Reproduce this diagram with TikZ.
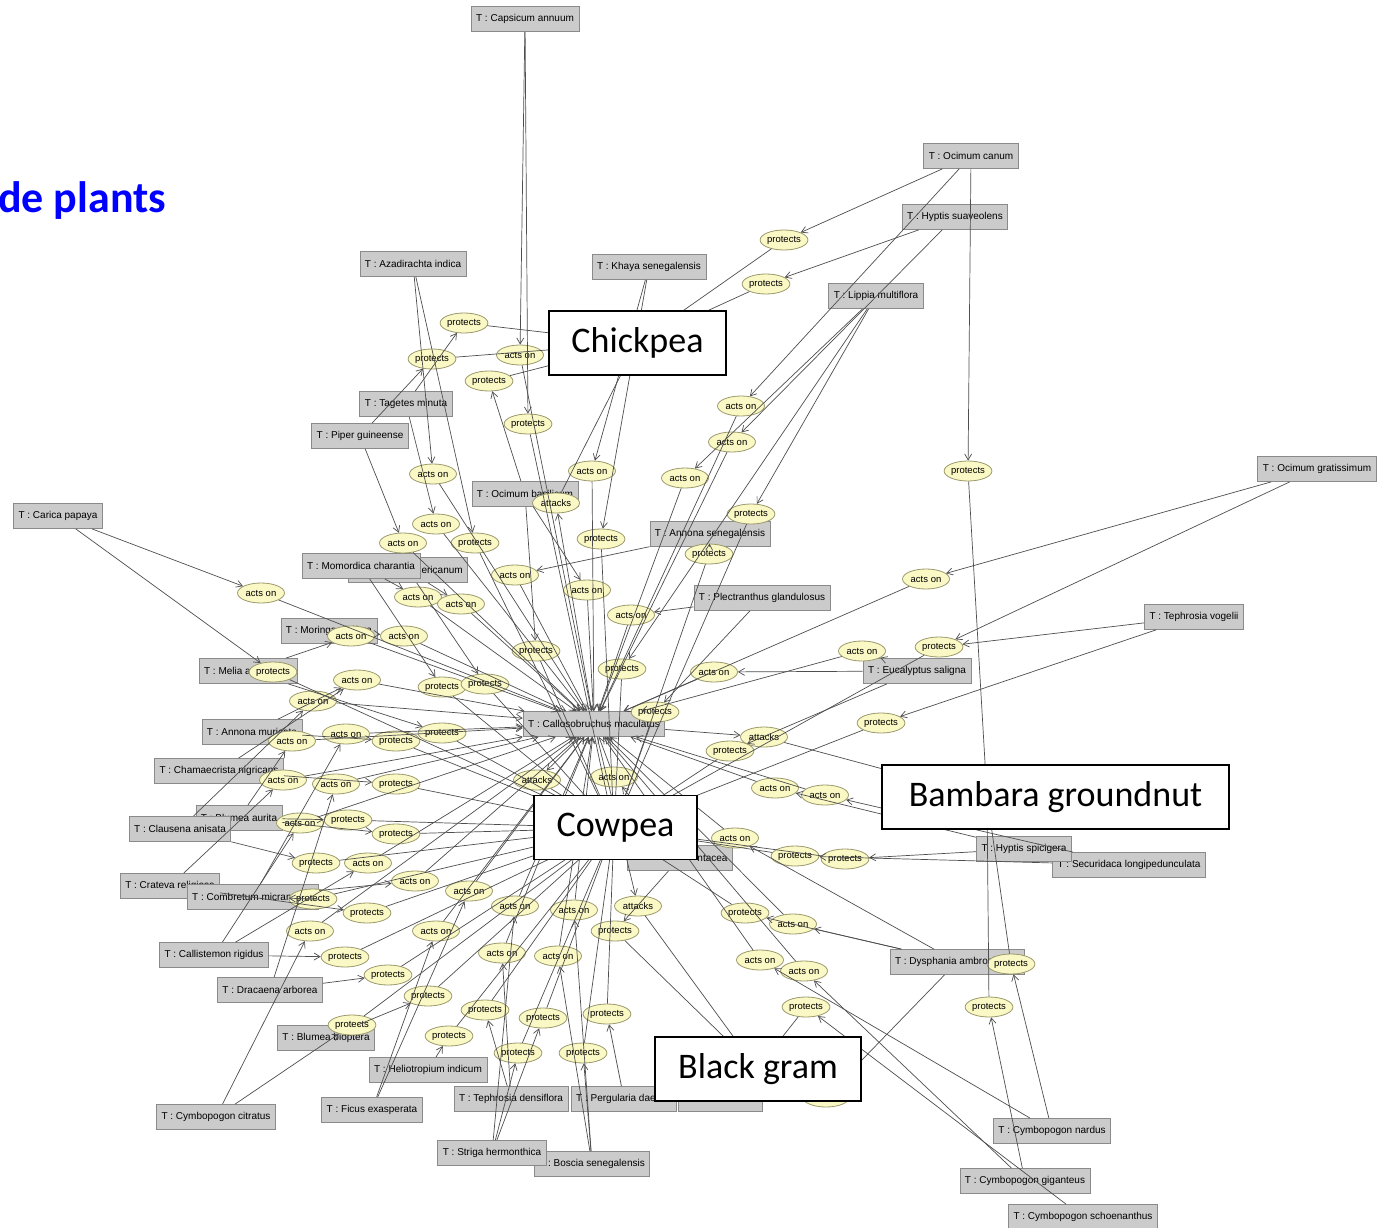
\documentclass[tikz,border=0pt]{standalone}
\usepackage{fontspec}
\newfontfamily\graphfont{Liberation Sans}
\newfontfamily\slidefont{Carlito}
\usepackage{xcolor}
\usetikzlibrary{arrows.meta, shapes.geometric}
\definecolor{taxonfill}{HTML}{CBCBCB}
\definecolor{taxonline}{HTML}{8A8A8A}
\definecolor{relfill}{HTML}{FAF8C4}
\definecolor{relline}{HTML}{9C9A6C}
\definecolor{linkgray}{HTML}{4E4E4E}
\definecolor{titleblue}{HTML}{0000FF}
\begin{document}
\begin{tikzpicture}[
    x=1pt, y=-1pt,
    taxon/.style={rectangle, draw=taxonline, fill=taxonfill, line width=0.8pt, minimum height=25pt, inner xsep=5pt, inner ysep=0pt, font=\graphfont\fontsize{10}{12}\selectfont},
    relation/.style={ellipse, draw=relline, fill=relfill, line width=0.8pt, minimum width=47pt, minimum height=20pt, inner sep=0pt, font=\graphfont\fontsize{9.5}{11}\selectfont},
    conn/.style={-{Straight Barb[length=6pt,width=7pt]}, draw=linkgray, line width=0.7pt},
    croplabel/.style={rectangle, draw=black, fill=white, line width=1.4pt, minimum height=64pt, font=\slidefont\fontsize{36}{40}\selectfont}
]
\useasboundingbox (0,0) rectangle (1384,1228);
\fill[white] (0,0) rectangle (1384,1228);

% slide title (cut at the left edge)
\node[anchor=base west, inner sep=0pt, text=titleblue, font=\slidefont\bfseries\fontsize{44}{48}\selectfont] (title) at (-2,212) {de plants};

% hidden crop nodes under the labels
\coordinate (chick) at (637,343);
\coordinate (cow) at (614,828);
\coordinate (bam) at (987,797);
\coordinate (bg) at (757,1069);

% plant taxa
\node[taxon] (cap) at (525,19) {T : Capsicum annuum};
\node[taxon] (ocan) at (971,156) {T : Ocimum canum};
\node[taxon] (hsua) at (955,217) {T : Hyptis suaveolens};
\node[taxon] (aza) at (413,264) {T : Azadirachta indica};
\node[taxon] (khaya) at (649,267) {T : Khaya senegalensis};
\node[taxon] (lip) at (876,296) {T : Lippia multiflora};
\node[taxon] (tag) at (406,404) {T : Tagetes minuta};
\node[taxon] (pip) at (360,436) {T : Piper guineense};
\node[taxon] (ogra) at (1317,469) {T : Ocimum gratissimum};
\node[taxon] (obas) at (525,494) {T : Ocimum basilicum};
\node[taxon] (car) at (58,516) {T : Carica papaya};
\node[taxon] (asen) at (710,534) {T : Annona senegalensis};
\node[taxon] (oame) at (408,570) {T : Ocimum americanum};
\node[taxon] (mom) at (361,566) {T : Momordica charantia};
\node[taxon] (plec) at (762,598) {T : Plectranthus glandulosus};
\node[taxon] (teph) at (1194,617) {T : Tephrosia vogelii};
\node[taxon] (mor) at (329,631) {T : Moringa oleifera};
\node[taxon] (mel) at (248,671) {T : Melia azedarach};
\node[taxon] (euc) at (917,671) {T : Eucalyptus saligna};
\node[taxon] (amur) at (252,732) {T : Annona muricata};
\node[taxon] (cham) at (219,771) {T : Chamaecrista nigricans};
\node[taxon] (baur) at (239,818) {T : Blumea aurita};
\node[taxon] (clau) at (180,829) {T : Clausena anisata};
\node[taxon] (sec) at (1129,865) {T : Securidaca longipedunculata};
\node[taxon] (hspi) at (1024,849) {T : Hyptis spicigera};
\node[taxon, text width=95pt, align=right] (hid1) at (680,858) {ntacea};
\node[taxon] (crat) at (170,886) {T : Crateva religiosa};
\node[taxon] (comb) at (253,897) {T : Combretum micranthum};
\node[taxon] (call) at (214,955) {T : Callistemon rigidus};
\node[taxon] (dys) at (957,962) {T : Dysphania ambrosioides};
\node[taxon] (drac) at (270,990) {T : Dracaena arborea};
\node[taxon] (bbio) at (326,1038) {T : Blumea bioptera};
\node[taxon] (hel) at (428,1070) {T : Heliotropium indicum};
\node[taxon] (cymc) at (216,1117) {T : Cymbopogon citratus};
\node[taxon] (fic) at (372,1110) {T : Ficus exasperata};
\node[taxon, minimum width=84pt] (hid2) at (720,1099) {};
\node[taxon] (perg) at (624,1099) {T : Pergularia daemia};
\node[taxon] (tden) at (511,1099) {T : Tephrosia densiflora};
\node[taxon] (bos) at (592,1164) {T : Boscia senegalensis};
\node[taxon] (stri) at (492,1153) {T : Striga hermonthica};
\node[taxon] (cnar) at (1052,1131) {T : Cymbopogon nardus};
\node[taxon] (cgig) at (1025,1181) {T : Cymbopogon giganteus};
\node[taxon] (csch) at (1083,1217) {T : Cymbopogon schoenanthus};
% pest
\node[taxon] (cal) at (594,724) {T : Callosobruchus maculatus};

% relation nodes
\foreach \n/\x/\y/\t in {p1/784/240/protects, p2/766/284/protects, p3/464/323/protects, p4/432/359/protects,
    a5/520/355/acts on, p6/489/381/protects, p7/528/424/protects, a8/741/406/acts on, a9/732/442/acts on,
    a10/433/474/acts on, a11/592/471/acts on, a12/685/478/acts on, p13/968/471/protects, t14/556/503/attacks,
    p15/751/514/protects, a16/436/524/acts on, a17/403/543/acts on, p18/475/543/protects, p19/601/539/protects,
    p20/709/554/protects, a21/515/575/acts on, a22/926/579/acts on, a23/587/590/acts on, a24/418/597/acts on,
    a25/461/604/acts on, a26/261/593/acts on, a27/631/615/acts on, a28/351/636/acts on, a29/404/636/acts on,
    p30/939/647/protects, a31/862/651/acts on, p32/536/651/protects, p33/273/672/protects, p34/622/669/protects,
    a35/714/672/acts on, a36/357/680/acts on, p37/442/687/protects, p38/485/684/protects, a39/313/701/acts on,
    p40/655/712/protects, p41/881/723/protects, a42/292/741/acts on, a43/346/734/acts on, p44/396/741/protects,
    p45/442/733/protects, t46/764/737/attacks, p47/730/751/protects, a48/283/780/acts on, a49/336/784/acts on,
    p50/396/784/protects, t51/537/780/attacks, a52/614/777/acts on, a53/775/788/acts on, a54/825/795/acts on,
    a55/300/823/acts on, p56/348/820/protects, p57/396/834/protects, p58/316/863/protects, a59/368/863/acts on,
    a60/735/838/acts on, p61/795/856/protects, p62/845/859/protects, a63/415/881/acts on, a64/469/891/acts on,
    p65/313/899/protects, p66/367/913/protects, a67/515/906/acts on, a68/574/910/acts on, t69/638/906/attacks,
    p70/745/913/protects, a71/793/924/acts on, a72/310/931/acts on, a73/436/931/acts on, p74/615/931/protects,
    p75/345/957/protects, a76/502/953/acts on, a77/558/956/acts on, a78/760/960/acts on, a79/804/971/acts on,
    p80/1011/964/protects, p81/388/975/protects, p82/428/996/protects, p83/806/1007/protects, p84/989/1007/protects,
    p85/485/1010/protects, p86/543/1018/protects, p87/607/1014/protects, p88/352/1025/protects, p89/449/1036/protects,
    p90/518/1053/protects, p91/583/1053/protects}
    \node[relation] (\n) at (\x,\y) {\t};
\node[relation] (p92) at (826,1097) {};

% source -> relation -> target
\foreach \s/\e/\t in {ocan/p1/chick, hsua/p2/chick, tag/p3/chick, pip/p4/chick, cap/a5/cal, obas/p6/chick,
    cap/p7/cow, ocan/a8/cal, hsua/a9/cal, aza/a10/cal, khaya/a11/cal, lip/a12/cal, ocan/p13/bam, cal/t14/chick,
    lip/p15/cow, tag/a16/cal, pip/a17/cal, aza/p18/cow, khaya/p19/cow, asen/p20/cow, asen/a21/cal, ogra/a22/cal,
    obas/a23/cal, mom/a24/cal, oame/a25/cal, car/a26/cal, plec/a27/cal, mel/a28/cal, mor/a29/cal, ogra/p30/cow,
    euc/a31/cal, obas/p32/cow, car/p33/cow, lip/p34/cow, euc/a35/cal, amur/a36/cal, mom/p37/cow, oame/p38/cow,
    clau/a39/cal, plec/p40/cow, teph/p41/cow, baur/a42/cal, comb/a43/cal, amur/p44/cow, mel/p45/cow,
    cal/t46/bam, euc/p47/cow, crat/a48/cal, drac/a49/cal, cham/p50/cow, cal/t51/cow, hid1/a52/cal,
    hspi/a53/cal, sec/a54/cal, call/a55/cal, baur/p56/cow, baur/p57/cow, clau/p58/cow, call/a59/cal,
    dys/a60/cal, sec/p61/cow, hspi/p62/cow, comb/a63/cal, fic/a64/cal, comb/p65/cow, crat/p66/cow,
    stri/a67/cal, bos/a68/cal, cal/t69/bg, dys/p70/cow, dys/a71/cal, cymc/a72/cal, fic/a73/cal, hid1/p74/bg,
    call/p75/cow, tden/a76/cal, bos/a77/cal, cnar/a78/cal, cgig/a79/cal, cnar/p80/bam, drac/p81/cow,
    bbio/p82/cow, csch/p83/bg, cgig/p84/bam, tden/p85/cow, stri/p86/cow, perg/p87/cow, cymc/p88/cow,
    hel/p89/cow, stri/p90/cow, bos/p91/cow, dys/p92/bg}
{
    \draw[conn] (\s) -- (\e);
    \draw[conn] (\e) -- (\t);
}
\draw[conn] (teph) -- (p30);
\draw[conn] (cham) -- (a36);

% crop labels on top
\node[croplabel, minimum width=177pt] (chickpea) at (637.5,343) {Chickpea};
\node[croplabel, minimum width=163pt] (cowpea) at (615.5,827.5) {Cowpea};
\node[croplabel, minimum width=347pt] (bambara) at (1055.5,797) {Bambara groundnut};
\node[croplabel, minimum width=206pt] (blackgram) at (758,1069) {Black gram};

\end{tikzpicture}
\end{document}
